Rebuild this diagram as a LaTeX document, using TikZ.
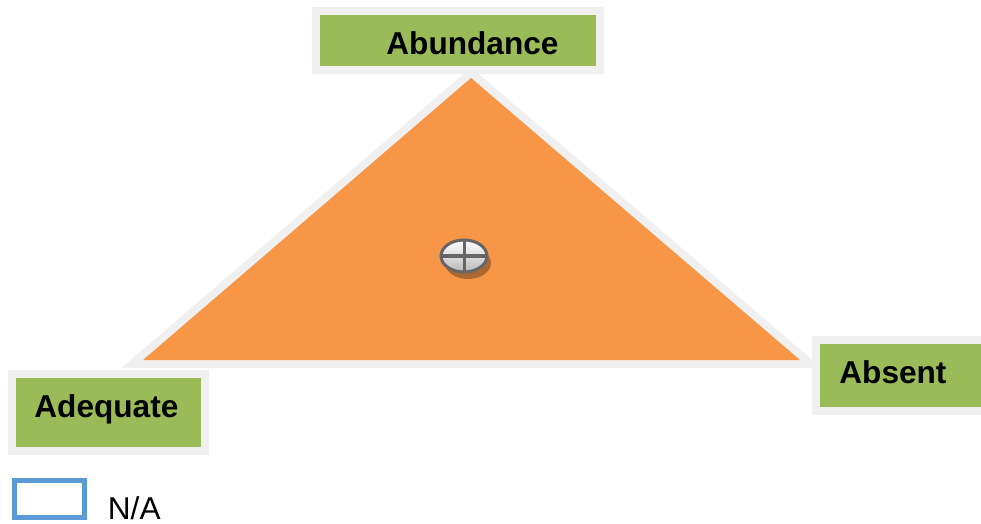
\documentclass[tikz,border=0pt]{standalone}
\usepackage{fontspec}
\setmainfont{Liberation Sans}
\usepackage{tikz}
\usetikzlibrary{
  calc,%
  positioning,%
  shapes.geometric
}
\definecolor{framegray}{HTML}{F0F0F0}
\definecolor{boxgreen}{HTML}{9BBB59}
\definecolor{triorange}{HTML}{F79646}
\definecolor{legendblue}{HTML}{5B9BD5}
\definecolor{iconrim}{HTML}{666666}
\tikzset{font=\fontsize{15.8}{19}\selectfont}
\tikzset{labelbox/.style={rectangle, draw=framegray, fill=boxgreen,
    line width=4pt, inner sep=0pt}}
\tikzset{labeltext/.style={anchor=base west, inner sep=0pt,
    font=\fontsize{15.8}{19}\selectfont\bfseries}}

\begin{document}
\begin{tikzpicture}[x=0.5pt, y=-0.5pt]
  \clip (0,0) rectangle (981,524);
  \fill[white] (0,0) rectangle (981,524);
  % triangle, gray rim drawn first and the orange laid over it
  \coordinate (apex) at (471,78);
  \coordinate (left) at (143,360);
  \coordinate (right) at (800,360);
  \draw[framegray, line width=8pt, line join=miter]
    (apex) -- (right) -- (left) -- cycle;
  \fill[triorange] (apex) -- (right) -- (left) -- cycle;
  % corner boxes
  \node[labelbox, minimum width=142pt, minimum height=29.5pt] (abundbox) at (458,40.5) {};
  \node[labelbox, minimum width=87pt, minimum height=35.5pt] (absentbox) at (903,375.5) {};
  \node[labelbox, minimum width=96.5pt, minimum height=38.5pt] (adequatebox) at (108.5,412.5) {};
  \node[labeltext] (abundance) at (386,55) {Abundance};
  \node[labeltext] (absent) at (839,383) {Absent};
  \node[labeltext] (adequate) at (34,417) {Adequate};
  % marker in the middle
  \fill[black, opacity=0.3] (468,263) ellipse (23 and 16);
  \shade[top color=white, bottom color=gray!55, draw=iconrim, line width=1.5pt]
    (464,256) ellipse (23 and 16);
  \draw[iconrim, line width=1.5pt] (464,240) -- (464,272);
  \draw[iconrim, line width=1.5pt] (441,256) -- (487,256);
  % legend
  \node[rectangle, draw=legendblue, line width=2.5pt, inner sep=0pt,
    minimum width=35pt, minimum height=18.5pt] (nabox) at (49.5,499) {};
  \node[anchor=base west, inner sep=0pt] (na) at (107.5,519) {N/A};
\end{tikzpicture}
\end{document}
